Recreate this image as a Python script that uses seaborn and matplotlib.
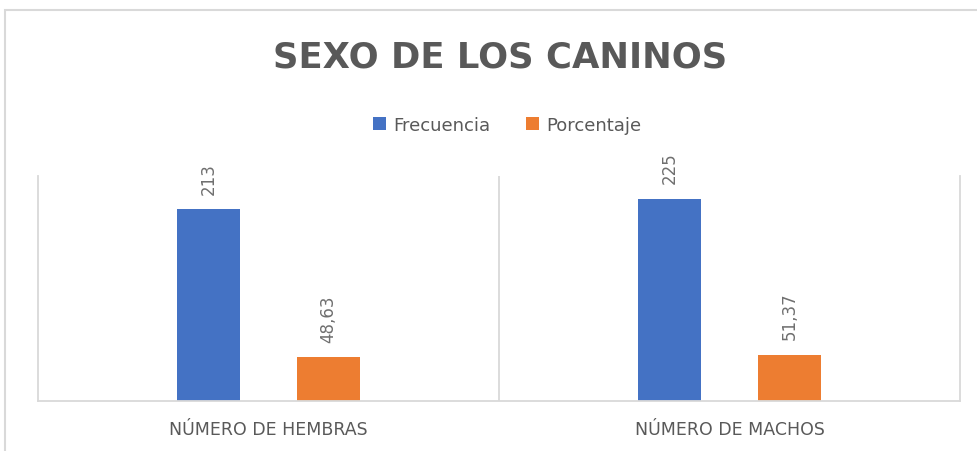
import pandas as pd
import seaborn as sns
import matplotlib.pyplot as plt
from matplotlib.patches import Rectangle

# values
categories = ["NÚMERO DE HEMBRAS", "NÚMERO DE MACHOS"]
series = ["Frecuencia", "Porcentaje"]
frecuencia = [213, 225]
porcentaje = [48.63, 51.37]
colors = ["#4472C4", "#ED7D31"]

df = pd.DataFrame({
    "categoria": categories * 2,
    "serie": [series[0]] * 2 + [series[1]] * 2,
    "valor": frecuencia + porcentaje,
})

sns.set_style("white")
plt.rcParams['font.family'] = ['DejaVu Sans']
grey_txt = "#595959"
grey_line = "#D9D9D9"

fig = plt.figure(figsize=(9.77, 4.52), dpi=100)
ax = fig.add_axes([38 / 977, 1 - 402 / 452, (960 - 38) / 977, (402 - 177) / 452])

sns.barplot(data=df, x="categoria", y="valor", hue="serie", hue_order=series,
            palette=colors, saturation=1, width=0.52, gap=0.47, linewidth=0, ax=ax)

ax.set_ylim(0, 250)
ax.set_xlim(-0.5, 1.5)
ax.set_yticks([])
ax.set_xlabel("")
ax.set_ylabel("")
ax.tick_params(axis="x", length=0, pad=14, labelsize=12.5, labelcolor=grey_txt)

for side in ["left", "right", "bottom"]:
    ax.spines[side].set_color(grey_line)
    ax.spines[side].set_linewidth(1.3)
ax.spines["top"].set_visible(False)
ax.axvline(0.5, color=grey_line, linewidth=1.3)

# data labels, comma as decimal separator
for cont in ax.containers:
    labels = [f"{b.get_height():g}".replace(".", ",") for b in cont]
    ax.bar_label(cont, labels=labels, rotation=90, padding=11,
                 fontsize=12, color="#6F6F6F")

# legend across the top
handles, lbls = ax.get_legend_handles_labels()
ax.legend(handles, lbls, loc="center", bbox_to_anchor=(507 / 977, 1 - 126 / 452),
          bbox_transform=fig.transFigure, ncol=2, frameon=False, fontsize=13,
          handlelength=0.7, handleheight=0.7, handletextpad=0.4, columnspacing=2.0,
          labelcolor=grey_txt)

fig.text(500 / 977, 1 - 57 / 452, "SEXO DE LOS CANINOS", ha="center", va="center",
         fontsize=25.5, fontweight="bold", color=grey_txt)

# chart frame (partly cut off at right/bottom)
fig.patches.append(Rectangle((5 / 977, -0.1), 1.2, 1 - 11 / 452 + 0.1,
                             transform=fig.transFigure, fill=False,
                             edgecolor=grey_line, linewidth=1.5))

fig.savefig("out.png", dpi=100, facecolor="white")
